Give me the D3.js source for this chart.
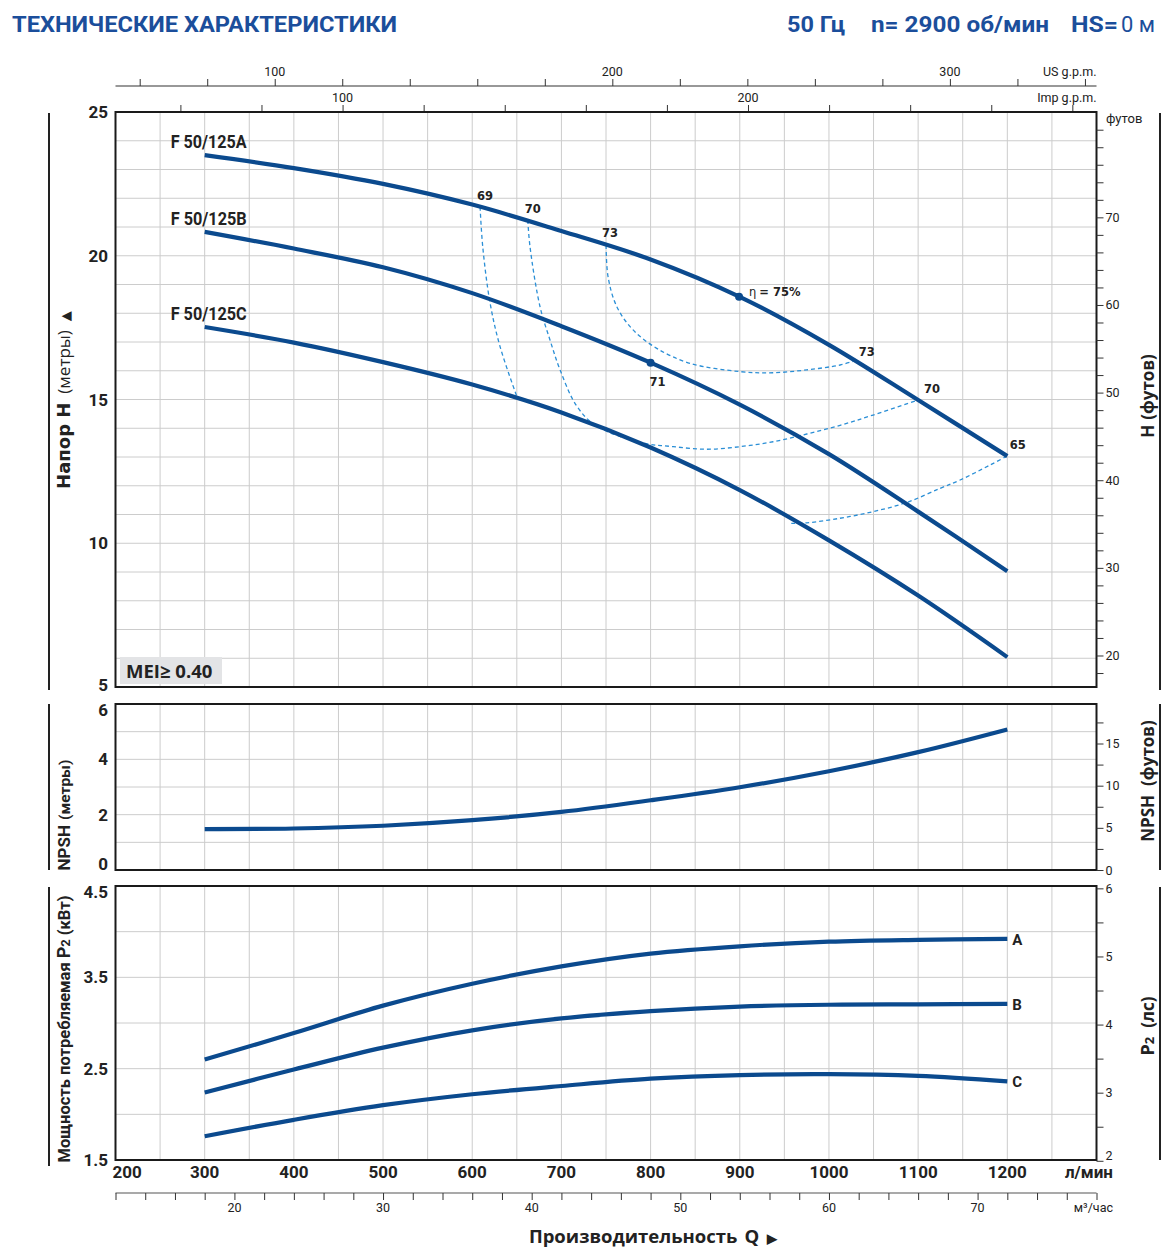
<!DOCTYPE html>
<html><head><meta charset="utf-8">
<script src="https://cdn.jsdelivr.net/npm/d3@7"></script>
<style>
body{margin:0;background:#fff;}
svg{display:block;}
.nar{font-family:"Liberation Sans Narrow","Arial Narrow","Roboto",sans-serif;}
.wide{font-family:"DejaVu Sans","Verdana",sans-serif;}
.open{font-family:"Open Sans","Noto Sans",sans-serif;}
</style></head>
<body>
<svg id="c" width="1172" height="1249"></svg>
<script>
// ---------- DATA ----------
const flowTicks = [200,300,400,500,600,700,800,900,1000,1100,1200];
const headTicks = [5,10,15,20,25];
const npshTicks = [0,2,4,6];
const powerTicks = [1.5,2.5,3.5,4.5];
const ftTicks = [20,30,40,50,60,70];
const npshFtTicks = [0,5,10,15];
const hpTicks = [2,3,4,5,6];
const usTicks = [100,200,300];
const impTicks = [100,200];
const m3hTicks = [20,30,40,50,60,70];

const flowQ = [300,400,500,600,700,800,900,1000,1100,1200];
const headA = [23.5,23.05,22.5,21.78,20.86,19.87,18.57,16.9,14.98,13.03];
const headB = [20.83,20.25,19.6,18.7,17.55,16.28,14.82,13.1,11.1,9.03];
const headC = [17.52,16.98,16.3,15.52,14.55,13.33,11.85,10.1,8.18,6.04];
const modelNames = ["F 50/125A","F 50/125B","F 50/125C"];

const npsh = [1.48,1.5,1.6,1.8,2.1,2.52,2.99,3.57,4.26,5.08];
const powerA = [2.6,2.89,3.19,3.43,3.62,3.76,3.84,3.89,3.91,3.92];
const powerB = [2.24,2.49,2.73,2.92,3.05,3.13,3.18,3.2,3.205,3.21];
const powerC = [1.76,1.94,2.1,2.22,2.31,2.39,2.43,2.44,2.42,2.36];
const powerLabels = ["A","B","C"];

// iso-efficiency curves [q, H]
const eff69 = [[608.8,21.7],[611.8,20.31],[620,18.36],[631.2,16.84],[650.2,15.09]];
const eff70 = [[662.3,21.24],[664.8,20.31],[676,18.23],[687.2,17.07],[698.5,16.03],[717.2,14.77],[739.6,14.07],[791.6,13.49],[825.2,13.36],[863,13.27],[900.3,13.36],[937.3,13.53],[975.1,13.8],[1012.5,14.1],[1049.5,14.46],[1099.9,14.98]];
const eff73 = [[750.1,20.37],[752.3,19.27],[762.1,18.23],[780.4,17.42],[806.9,16.78],[844.2,16.26],[900.3,15.97],[937.3,15.93],[975.1,16.03],[1012.5,16.2],[1031.2,16.37]];
const eff65 = [[1199.4,13.03],[1180.7,12.72],[1147.1,12.2],[1124.6,11.91],[1087.3,11.42],[1049.5,11.1],[1012.5,10.87],[975.1,10.71],[957.2,10.69]];
const effPoints = [[899.2,18.57],[800,16.28]]; // η=75% on A, 71 on B

// ---------- SCALES ----------
const svg = d3.select("#c");
const L = 115.5, R = 1096.5;
const x = d3.scaleLinear([200,1300],[L,R]);
const yH = d3.scaleLinear([5,25],[687,112]);
const yN = d3.scaleLinear([0,6],[870,704]);
const yP = d3.scaleLinear([1.5,4.5],[1160,886]);
const yFt = d3.scaleLinear([5/0.3048,25/0.3048],[687,112]);
const yNFt = d3.scaleLinear([0,6/0.3048],[870,704]);
const yHp = d3.scaleLinear([1.5/0.7457,4.5/0.7457],[1160,886]);
const xUS = d3.scaleLinear([200/3.78541,1300/3.78541],[L,R]);
const xImp = d3.scaleLinear([200/4.54609,1300/4.54609],[L,R]);
const xM3 = d3.scaleLinear([12,78],[L,R]);

const blue = "#0b4a8e", lblue = "#2b8fd6", grid = "#cccccc";

// ---------- HEADER ----------
svg.append("text").attr("class","nar").attr("x",12).attr("y",32).attr("font-size",22).attr("font-weight","bold")
  .attr("fill","#1b4e9b").attr("textLength",385).attr("lengthAdjust","spacingAndGlyphs").text("ТЕХНИЧЕСКИЕ ХАРАКТЕРИСТИКИ");
svg.append("text").attr("class","nar").attr("x",787).attr("y",32).attr("font-size",22).attr("font-weight","bold")
  .attr("fill","#1b4e9b").attr("textLength",58).attr("lengthAdjust","spacingAndGlyphs").text("50 Гц");
svg.append("text").attr("class","nar").attr("x",871).attr("y",32).attr("font-size",22).attr("font-weight","bold")
  .attr("fill","#1b4e9b").attr("textLength",178).attr("lengthAdjust","spacingAndGlyphs").text("n= 2900 об/мин");
svg.append("text").attr("class","nar").attr("x",1071).attr("y",32).attr("font-size",22).attr("font-weight","bold")
  .attr("fill","#1b4e9b").attr("textLength",47).attr("lengthAdjust","spacingAndGlyphs").text("HS=");
svg.append("text").attr("class","nar").attr("x",1121).attr("y",32).attr("font-size",22)
  .attr("fill","#1b4e9b").attr("textLength",34).attr("lengthAdjust","spacingAndGlyphs").text("0 м");

// ---------- TOP AXES ----------
const usG = svg.append("g").attr("transform","translate(0,86)");
usG.call(d3.axisTop(xUS).tickValues(d3.range(60,341,20)).tickSize(7).tickFormat(""));
usG.select(".domain").attr("d",`M${L},0H${R}`).attr("stroke","#333").attr("stroke-width",1.2);
usG.selectAll(".tick line").attr("stroke","#333");
usG.selectAll(".lbl").data(usTicks).join("text").attr("class","nar").attr("x",d=>xUS(d)).attr("y",-10)
  .attr("text-anchor","middle").attr("font-size",12.5).attr("fill","#222").text(d=>d);
usG.append("text").attr("class","nar").attr("x",R).attr("y",-10).attr("text-anchor","end").attr("font-size",12.5).attr("fill","#222").text("US g.p.m.");

const impG = svg.append("g").attr("transform","translate(0,112)");
impG.call(d3.axisTop(xImp).tickValues(d3.range(60,281,20)).tickSize(7).tickFormat(""));
impG.select(".domain").remove();
impG.selectAll(".tick line").attr("stroke","#333");
impG.selectAll(".lbl").data(impTicks).join("text").attr("class","nar").attr("x",d=>xImp(d)).attr("y",-10)
  .attr("text-anchor","middle").attr("font-size",12.5).attr("fill","#222").text(d=>d);
impG.append("text").attr("class","nar").attr("x",R).attr("y",-10).attr("text-anchor","end").attr("font-size",12.5).attr("fill","#222").text("Imp g.p.m.");

// ---------- GRIDS ----------
function panel(yScale, hStep){
  const g = svg.append("g");
  const [d0,d1] = yScale.domain();
  g.selectAll(".h").data(d3.range(d0+hStep, d1-hStep/2, hStep)).join("line")
    .attr("x1",L).attr("x2",R).attr("y1",d=>yScale(d)).attr("y2",d=>yScale(d)).attr("stroke",grid).attr("stroke-width",1);
  g.selectAll(".v").data(d3.range(250,1300,50)).join("line")
    .attr("x1",d=>x(d)).attr("x2",d=>x(d)).attr("y1",yScale(d1)).attr("y2",yScale(d0)).attr("stroke",grid).attr("stroke-width",1);
  return g;
}
panel(yH,1); panel(yN,1); panel(yP,0.5);

// ---------- MAIN PLOT CURVES ----------
const line = (xs,ys) => d3.line().x(d=>xs(d[0])).y(d=>ys(d[1])).curve(d3.curveCatmullRom.alpha(0.5));
const heads = [headA,headB,headC];

[eff69,eff70,eff73,eff65].forEach(arr=>{
  svg.append("path").attr("d",line(x,yH)(arr)).attr("fill","none").attr("stroke",lblue)
    .attr("stroke-width",1.3).attr("stroke-dasharray","4,3");
});
heads.forEach((h,i)=>{
  svg.append("path").attr("d",line(x,yH)(flowQ.map((q,j)=>[q,h[j]]))).attr("fill","none")
    .attr("stroke",blue).attr("stroke-width",4.2).attr("stroke-linecap","butt");
  svg.append("text").attr("class","nar").attr("x",x(300)-34).attr("y",yH(h[0])-7).attr("font-size",18)
    .attr("font-weight","bold").attr("fill","#222").attr("textLength",76).attr("lengthAdjust","spacingAndGlyphs").text(modelNames[i]);
});
svg.selectAll(".ep").data(effPoints).join("circle").attr("cx",d=>x(d[0])).attr("cy",d=>yH(d[1])).attr("r",4).attr("fill",blue);

function effLabel(q,h,dx,dy,t,anchor){
  svg.append("text").attr("class","wide").attr("x",x(q)+dx).attr("y",yH(h)+dy).attr("font-size",11.5)
    .attr("font-weight","bold").attr("fill","#222").attr("text-anchor",anchor||"middle").text(t);
}
effLabel(eff69[0][0],eff69[0][1],5,-7,"69");
effLabel(eff70[0][0],eff70[0][1],5,-7,"70");
effLabel(eff73[0][0],eff73[0][1],4,-8,"73");
effLabel(effPoints[1][0],effPoints[1][1],7,23,"71");
effLabel(eff73[eff73.length-1][0],eff73[eff73.length-1][1],10,-4,"73");
effLabel(eff70[eff70.length-1][0],eff70[eff70.length-1][1],14,-7,"70");
effLabel(eff65[0][0],eff65[0][1],11,-7,"65");
const etaT = svg.append("text").attr("x",x(effPoints[0][0])+10).attr("y",yH(effPoints[0][1])-1).attr("font-size",11.5).attr("fill","#222");
etaT.append("tspan").attr("class","wide").text("η");
etaT.append("tspan").attr("class","wide").attr("dx",3).attr("font-weight","bold").text("= 75%");

// MEI box
svg.append("rect").attr("x",120).attr("y",657).attr("width",102).attr("height",27).attr("fill","#e3e4e6");
svg.append("text").attr("class","open").attr("x",126).attr("y",678).attr("font-size",18.5).attr("font-weight","bold").attr("fill","#222").text("MEI≥ 0.40");

// ---------- NPSH ----------
svg.append("path").attr("d",line(x,yN)(flowQ.map((q,j)=>[q,npsh[j]]))).attr("fill","none").attr("stroke",blue).attr("stroke-width",4.2);

// ---------- POWER ----------
[powerA,powerB,powerC].forEach((p,i)=>{
  svg.append("path").attr("d",line(x,yP)(flowQ.map((q,j)=>[q,p[j]]))).attr("fill","none").attr("stroke",blue).attr("stroke-width",4.2);
  svg.append("text").attr("class","nar").attr("x",x(1200)+5).attr("y",yP(p[p.length-1])+6).attr("font-size",15)
    .attr("font-weight","bold").attr("fill","#222").text(powerLabels[i]);
});

// frames
[yH,yN,yP].forEach(s=>{
  const r = s.range();
  svg.append("rect").attr("x",L).attr("y",r[1]).attr("width",R-L).attr("height",r[0]-r[1]).attr("fill","none").attr("stroke","#1a1a1a").attr("stroke-width",2);
});

// ---------- LEFT AXES LABELS ----------
function leftLabels(s, vals, fmt, topShift, botShift){
  svg.selectAll(null).data(vals).join("text").attr("class","nar").attr("x",108).attr("y",d=>{
      let y = s(d)+6; const r=s.range(); if (Math.abs(s(d)-r[1])<1) y+=topShift; if(Math.abs(s(d)-r[0])<1) y-=botShift; return y;})
    .attr("text-anchor","end").attr("font-size",17).attr("font-weight","bold").attr("fill","#222").text(fmt?fmt:(d=>d));
}
leftLabels(yH, headTicks, null, 0, 2);
leftLabels(yN, npshTicks, null, 6, 6);
leftLabels(yP, powerTicks, d=>d.toFixed(1), 6, 0);

// ---------- RIGHT AXES ----------
function rightAxis(s, minor, labels, botLift){
  const g = svg.append("g").attr("transform",`translate(${R},0)`);
  g.call(d3.axisRight(s).tickValues(minor).tickSize(7).tickFormat(""));
  g.select(".domain").remove();
  g.selectAll(".tick line").attr("stroke","#333");
  const r = s.range();
  g.selectAll(".lb").data(labels).join("text").attr("class","nar").attr("x",9)
    .attr("y",d=>s(d)+4.5-(Math.abs(s(d)-r[0])<2?botLift:0))
    .attr("font-size",12.5).attr("fill","#222").text(d=>d);
}
rightAxis(yFt, d3.range(18,81,2), ftTicks, 0);
rightAxis(yNFt, d3.range(0,18,2.5), npshFtTicks, 0);
rightAxis(yHp, d3.range(2,6.01,0.5), hpTicks, 5);
svg.append("text").attr("class","nar").attr("x",1106).attr("y",123).attr("font-size",13).attr("fill","#222").text("футов");

// ---------- BOTTOM AXES ----------
svg.selectAll(null).data(flowTicks).join("text").attr("class","nar")
  .attr("x",d=>d===200?x(d)-3:x(d)).attr("y",1178).attr("text-anchor",d=>d===200?"start":"middle")
  .attr("font-size",17).attr("font-weight","bold").attr("fill","#222").text(d=>d);
svg.append("text").attr("class","nar").attr("x",1113).attr("y",1178).attr("text-anchor","end").attr("font-size",17).attr("font-weight","bold").attr("fill","#222").text("л/мин");

const mG = svg.append("g").attr("transform","translate(0,1193)");
mG.call(d3.axisBottom(xM3).tickValues(d3.range(12,79,2)).tickSize(7).tickFormat(""));
mG.select(".domain").attr("d",`M${L},0H${R}`).attr("stroke","#555").attr("stroke-width",1.2);
mG.selectAll(".tick line").attr("stroke","#333");
mG.selectAll(".lb").data(m3hTicks).join("text").attr("class","nar").attr("x",d=>xM3(d)).attr("y",19)
  .attr("text-anchor","middle").attr("font-size",12.5).attr("fill","#222").text(d=>d);
mG.append("text").attr("class","nar").attr("x",1113).attr("y",19).attr("text-anchor","end").attr("font-size",12.5).attr("fill","#222").text("м³/час");

const qT = svg.append("text").attr("class","open").attr("x",653).attr("y",1243).attr("text-anchor","middle").attr("font-size",18.5).attr("font-weight","bold").attr("fill","#222");
qT.append("tspan").text("Производительность");
qT.append("tspan").attr("dx",7).text("Q");
qT.append("tspan").attr("dx",8).attr("font-size",13).text("▶");

// ---------- SIDE BARS & TITLES ----------
[[113,690],[704,870],[887,1166]].forEach(([a,b])=>{
  svg.append("line").attr("x1",49).attr("x2",49).attr("y1",a).attr("y2",b).attr("stroke","#222").attr("stroke-width",2);
});
[[113,690],[704,870],[887,1160]].forEach(([a,b])=>{
  svg.append("line").attr("x1",1160).attr("x2",1160).attr("y1",a).attr("y2",b).attr("stroke","#222").attr("stroke-width",2);
});
function vtext(xp,yp,parts,cls){
  const t = svg.append("text").attr("transform",`translate(${xp},${yp}) rotate(-90)`)
    .attr("text-anchor","middle").attr("fill","#222");
  parts.forEach(p=>{ const s = t.append("tspan").attr("class",p[3]||cls).attr("font-size",p[2]||17).attr("font-weight",p[1]?"bold":"normal").text(p[0]); if(p[4]) s.attr("dx",p[4]); });
  return t;
}
vtext(70,400,[["Напор H",1,18,"wide"],["(метры)",0,17,"open",9],["▲",0,13,"wide",9]],"open");
vtext(70,815,[["NPSH",1,17],["(метры)",1,15.5,null,5]],"nar");
vtext(70,1029,[["Мощность потребляемая",1,16.5],["P",1,18,null,4],["2",1,13],["(кВт)",1,16.5,null,4]],"nar");
vtext(1154,396,[["H",1,17],["(футов)",1,17,null,5]],"open");
vtext(1154,781,[["NPSH",1,17],["(футов)",1,17,null,9]],"open");
vtext(1154,1026,[["P",1,18],["2",1,13],["(лс)",1,17,null,9]],"open");
</script>
</body></html>
